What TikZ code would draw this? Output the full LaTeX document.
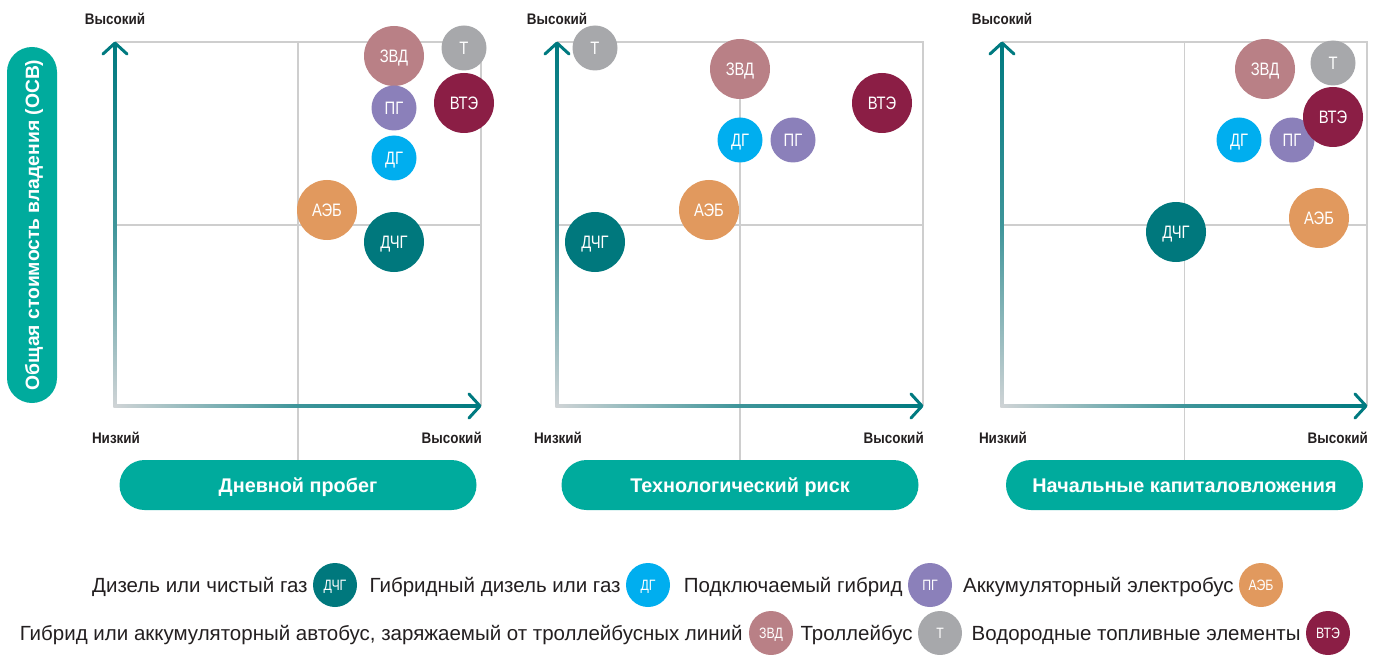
\documentclass[tikz,border=0pt]{standalone}
\usepackage{fontspec}
\setmainfont{Liberation Sans}
\newfontfamily\bubfont[FakeStretch=0.82]{Liberation Sans}
\newfontfamily\lblfont[FakeStretch=0.88]{Liberation Sans}
\newfontfamily\legfont{Liberation Sans}
\usetikzlibrary{calc}

\definecolor{pillc}{RGB}{0,171,157}
\definecolor{axteal}{RGB}{0,122,128}
\definecolor{axgray}{RGB}{208,212,214}
\definecolor{gridc}{RGB}{206,206,206}
\definecolor{lblc}{RGB}{35,31,32}
\definecolor{cDCHG}{RGB}{0,120,125}
\definecolor{cDG}{RGB}{0,174,239}
\definecolor{cPG}{RGB}{139,128,186}
\definecolor{cAEB}{RGB}{225,153,94}
\definecolor{cZVD}{RGB}{185,128,134}
\definecolor{cT}{RGB}{167,168,171}
\definecolor{cVTE}{RGB}{139,30,69}

\tikzset{
  pill/.style={rectangle, rounded corners=25pt, fill=pillc, text=white,
    minimum height=50, inner sep=0pt,
    font=\bfseries\fontsize{19.8}{20}\selectfont, text height=14pt, text depth=0pt},
  gridline/.style={draw=gridc, line width=1.6pt},
  axhead/.style={draw=axteal, line width=3pt, line cap=round, line join=round},
  lbl/.style={inner sep=0pt, text=lblc, font=\lblfont\bfseries\fontsize{15.3}{15.3}\selectfont},
  bubble/.style={circle, fill=#1, inner sep=0pt, text=white,
    font=\bubfont\fontsize{18}{18}\selectfont, text height=12.9pt, text depth=0pt},
  big/.style={minimum size=60},
  small/.style={minimum size=45},
  legbub/.style={minimum size=44, font=\bubfont\fontsize{15}{15}\selectfont,
    text height=10.7pt},
  legtxt/.style={inner sep=0pt, text=lblc, font=\legfont\fontsize{20.5}{21}\selectfont},
}

% one quadrant chart: name prefix, left x, right x, axis title
\newcommand\quadpanel[4]{%
  \coordinate (#1o) at (#2,406);
  \coordinate (#1y) at (#2,42);
  \coordinate (#1x) at (#3,406);
  \coordinate (#1m) at ({(#2+#3)/2},225);
  \node[pill, minimum width=357] (#1t) at ({(#2+#3)/2},485) {#4};
  \draw[gridline] (#1y) -| (#1x);
  \draw[gridline] (#1m |- #1y) -- (#1m |- #1t.north);
  \draw[gridline] (#1o |- #1m) -- (#1x |- #1m);
  \shade[left color=axgray, right color=axteal, middle color=axteal!70!axgray]
    ($(#1o)+(-1.5,-1.5)$) rectangle ($(#1x)+(-1.5,1.5)$);
  \shade[bottom color=axgray, top color=axteal, middle color=axteal!70!axgray]
    ($(#1o)+(-1.5,1.5)$) rectangle ($(#1y)+(1.5,1.5)$);
  \draw[axhead] ($(#1x)+(-12,-12)$) -- ($(#1x)+(-1,0)$) -- ($(#1x)+(-12,12)$);
  \draw[axhead] ($(#1y)+(-12,12)$) -- ($(#1y)+(0,1)$) -- ($(#1y)+(12,12)$);
  \node[lbl, anchor=base] (#1hy) at (#2,25) {Высокий};
  \node[lbl, anchor=base] (#1lx) at ({#2+1},443) {Низкий};
  \node[lbl, anchor=base east] (#1hx) at ({#3+1},443) {Высокий};
}

\begin{document}
\begin{tikzpicture}[x=1pt, y=-1pt]
\useasboundingbox (0,0) rectangle (1381,655);

% vertical axis title
\node[pill, rotate=90, minimum width=356, font=\bfseries\fontsize{19.3}{20}\selectfont]
  (osv) at (32,225) {Общая стоимость владения (ОСВ)};

% the three charts
\quadpanel{a}{115}{481}{Дневной пробег}
\quadpanel{b}{557}{923}{Технологический риск}
\quadpanel{c}{1002}{1367}{Начальные капиталовложения}

% chart 1: daily mileage
\node[bubble=cZVD, big]   (aZVD)  at (394,56)  {ЗВД};
\node[bubble=cT, small]   (aT)    at (464,48)  {Т};
\node[bubble=cPG, small]  (aPG)   at (394,108) {ПГ};
\node[bubble=cVTE, big]   (aVTE)  at (464,103) {ВТЭ};
\node[bubble=cDG, small]  (aDG)   at (394,158) {ДГ};
\node[bubble=cAEB, big]   (aAEB)  at (327,210) {АЭБ};
\node[bubble=cDCHG, big]  (aDCHG) at (394,242) {ДЧГ};

% chart 2: technological risk
\node[bubble=cT, small]   (bT)    at (595,48)  {Т};
\node[bubble=cZVD, big]   (bZVD)  at (740,69)  {ЗВД};
\node[bubble=cVTE, big]   (bVTE)  at (882,103) {ВТЭ};
\node[bubble=cDG, small]  (bDG)   at (740,140) {ДГ};
\node[bubble=cPG, small]  (bPG)   at (793,140) {ПГ};
\node[bubble=cAEB, big]   (bAEB)  at (709,210) {АЭБ};
\node[bubble=cDCHG, big]  (bDCHG) at (595,242) {ДЧГ};

% chart 3: initial capital investment
\node[bubble=cZVD, big]   (cZVDn)  at (1265,69)  {ЗВД};
\node[bubble=cT, small]   (cTn)    at (1333,63)  {Т};
\node[bubble=cDG, small]  (cDGn)   at (1239,140) {ДГ};
\node[bubble=cPG, small]  (cPGn)   at (1292,140) {ПГ};
\node[bubble=cVTE, big]   (cVTEn)  at (1333,117) {ВТЭ};
\node[bubble=cAEB, big]   (cAEBn)  at (1319,218) {АЭБ};
\node[bubble=cDCHG, big]  (cDCHGn) at (1176,232) {ДЧГ};

% legend, first row
\node[bubble=cDCHG, legbub] (l1) at (335,585) {ДЧГ};
\node[legtxt, anchor=base east] (t1) at ($(l1.west)+(-5,7)$) {Дизель или чистый газ};
\node[bubble=cDG, legbub] (l2) at (648,585) {ДГ};
\node[legtxt, anchor=base east] (t2) at ($(l2.west)+(-5,7)$) {Гибридный дизель или газ};
\node[bubble=cPG, legbub] (l3) at (930,585) {ПГ};
\node[legtxt, anchor=base east] (t3) at ($(l3.west)+(-5,7)$) {Подключаемый гибрид};
\node[bubble=cAEB, legbub] (l4) at (1261,585) {АЭБ};
\node[legtxt, anchor=base east] (t4) at ($(l4.west)+(-5,7)$) {Аккумуляторный электробус};

% legend, second row
\node[bubble=cZVD, legbub] (l5) at (771,633) {ЗВД};
\node[legtxt, anchor=base east] (t5) at ($(l5.west)+(-6,7)$) {Гибрид или аккумуляторный автобус, заряжаемый от троллейбусных линий};
\node[bubble=cT, legbub] (l6) at (940,633) {Т};
\node[legtxt, anchor=base east] (t6) at ($(l6.west)+(-5,7)$) {Троллейбус};
\node[bubble=cVTE, legbub] (l7) at (1328,633) {ВТЭ};
\node[legtxt, anchor=base east] (t7) at ($(l7.west)+(-5,7)$) {Водородные топливные элементы};
\end{tikzpicture}
\end{document}
